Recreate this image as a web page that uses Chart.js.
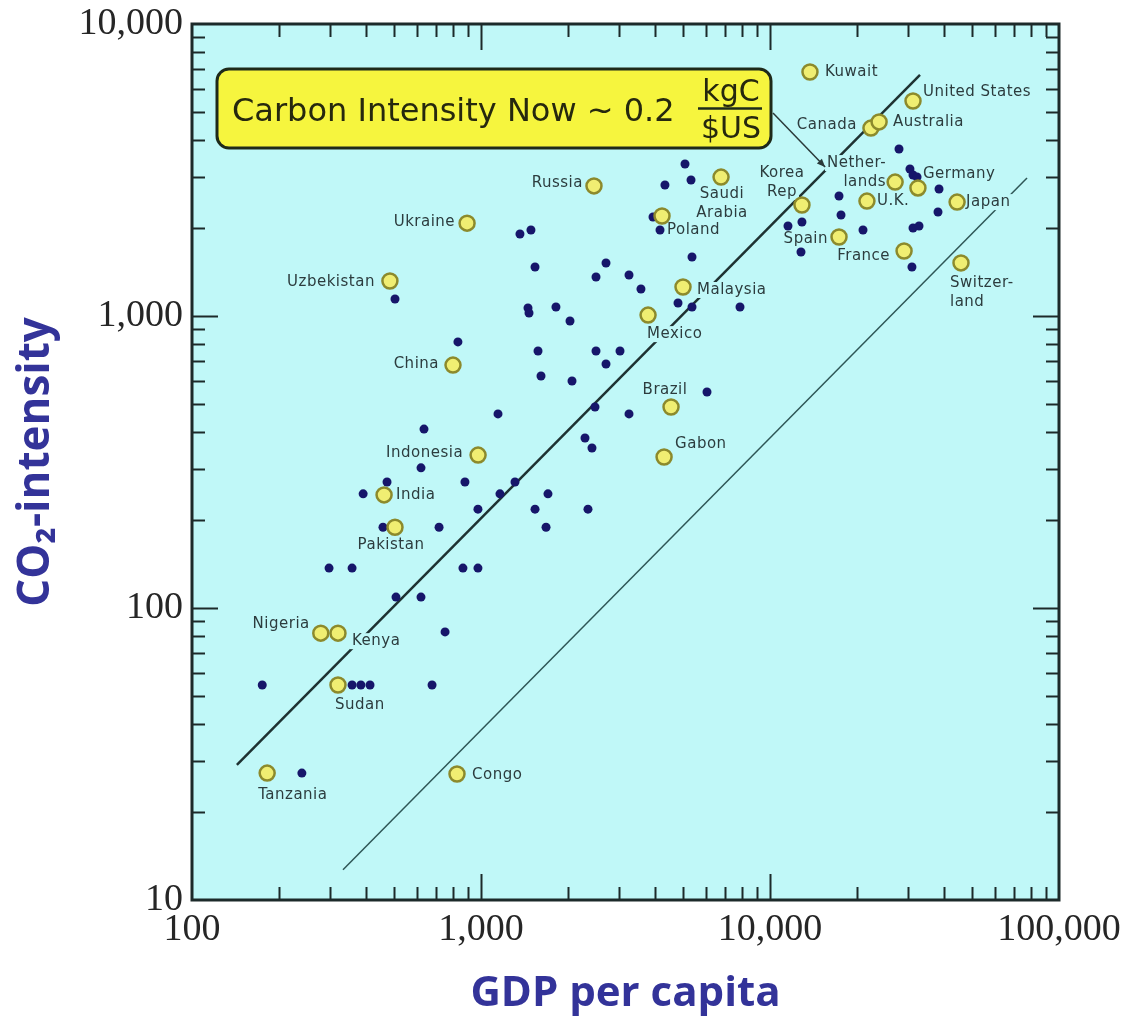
<!DOCTYPE html>
<html>
<head>
<meta charset="utf-8">
<script src="https://cdn.jsdelivr.net/npm/chart.js@4.4.0/dist/chart.umd.min.js"></script>
<style>
    html, body { margin: 0; padding: 0; background: #ffffff; }
    #wrap { width: 1128px; height: 1019px; }
</style>
</head>
<body>
<div id="wrap"><canvas id="myChart" width="1128" height="1019"></canvas></div>
<script>
// tick labels
const xTicks = [100, 1000, 10000, 100000];
const yTicks = [10, 100, 1000, 10000];
const minorSteps = [2, 3, 4, 5, 6, 7, 8, 9];

// unlabelled countries (GDP per capita, CO2 intensity)
const dotGdp = [504, 1364, 1489, 1538, 2707, 2500, 3252, 3577, 5080, 5330,
    4330, 3937, 4163, 5372, 4805, 5372, 7874, 1454, 1466, 1817,
    2032, 832, 27950, 30500, 31250, 32270, 38450, 17330, 17610, 11540,
    12900, 12800, 20980, 38130, 31250, 32780, 30990, 1575, 1613, 1145,
    635, 620, 473, 880, 1311, 391, 1163, 1705, 976, 1538,
    458, 716, 1679, 298, 358, 866, 976, 508, 620, 751,
    175, 358, 384, 413, 677, 240, 2500, 3027, 2707, 2065,
    6053, 2480, 3252, 2290, 2421, 2345];
const dotCo2 = [1143, 1909, 1970, 1472, 1519, 1360, 1382, 1237, 3315, 2923,
    2810, 2183, 1970, 1592, 1108, 1074, 1074, 1065, 1024, 1074,
    961, 815, 3731, 3187, 3040, 2992, 2722, 2576, 2218, 2033,
    2099, 1657, 1970, 2271, 2001, 2033, 1472, 759, 623, 462,
    410, 302, 270, 270, 270, 246, 246, 246, 218, 218,
    189, 189, 189, 137, 137, 137, 137, 109, 109, 82.8,
    54.5, 54.5, 54.5, 54.5, 54.5, 27.2, 759, 759, 685, 599,
    549, 488, 462, 382, 353, 218];

// labelled countries
const countryNames = ["Kuwait", "United States", "Canada", "Australia", "Nether-\nlands",
    "Germany", "U.K.", "Japan", "Korea\nRep", "Spain",
    "France", "Switzer-\nland", "Saudi\nArabia", "Poland", "Russia",
    "Ukraine", "Uzbekistan", "Malaysia", "Mexico", "China",
    "Brazil", "Indonesia", "Gabon", "India", "Pakistan",
    "Nigeria", "Kenya", "Sudan", "Tanzania", "Congo"];
const countryGdp = [13750, 31250, 22350, 23850, 27100,
    32500, 21650, 44400, 12900, 17330,
    29100, 45800, 6770, 4230, 2460,
    895, 484, 5000, 3785, 800,
    4545, 977, 4300, 462, 504,
    279, 320, 320, 182, 826];
const countryCo2 = [6850, 5450, 4400, 4620, 2875,
    2745, 2475, 2455, 2400, 1865,
    1670, 1520, 2990, 2200, 2790,
    2080, 1318, 1257, 1007, 679,
    488, 334, 329, 244, 189,
    82, 82, 54.5, 27.2, 27.0];

// the two reference lines (end points)
const fitGdp = [143, 33040];
const fitCo2 = [29, 6690];
const lowGdp = [333, 77500];
const lowCo2 = [12.7, 2970];

// label offsets from each yellow point: [dx, dy, align]
const labelPlace = [[15, 0, "left"], [10, -9, "left"], [-14, -3, "right"], [14, 0, "left"], [-9, -19, "right"],
    [5, -14, "left"], [10, 0, "left"], [9, 0, "left"], [-20, -32, "center"], [-11, 2, "right"],
    [-14, 5, "right"], [-11, 20, "left"], [1, 17, "center"], [5, 14, "left"], [-11, -3, "right"],
    [-12, -1, "right"], [-15, 1, "right"], [14, 3, "left"], [-1, 19, "left"], [-14, -1, "right"],
    [-6, -17, "center"], [-15, -2, "right"], [11, -13, "left"], [12, 0, "left"], [-4, 18, "center"],
    [-11, -9, "right"], [14, 8, "left"], [-3, 20, "left"], [-9, 22, "left"], [15, 1, "left"]];

const plotBg = "#c0f8f8";
const frameColor = "#1c2a2a";
const labelColor = "#2c3c3e";
const titleColor = "#333399";

function toPoints(xs, ys) {
    return xs.map((x, i) => ({ x: x, y: ys[i] }));
}

function drawLabels(chart) {
    const ctx = chart.ctx;
    const xs = chart.scales.x;
    const ys = chart.scales.y;
    ctx.save();
    ctx.font = "15px 'DejaVu Sans'";
    ctx.letterSpacing = "0.5px";
    ctx.textBaseline = "middle";
    ctx.textAlign = "left";
    countryNames.forEach((name, i) => {
        const p = labelPlace[i];
        const px = xs.getPixelForValue(countryGdp[i]) + p[0];
        const py = ys.getPixelForValue(countryCo2[i]) + p[1];
        name.split("\n").forEach((line, j) => {
            const w = ctx.measureText(line).width;
            const y = py + j * 19;
            let left = px;
            if (p[2] === "right") left = px - w;
            if (p[2] === "center") left = px - w / 2;
            ctx.fillStyle = plotBg;
            ctx.fillRect(left - 2, y - 8, w + 4, 16);
            ctx.fillStyle = labelColor;
            ctx.fillText(line, left, y);
        });
    });
    ctx.restore();
}

function drawFrame(chart) {
    const { ctx, chartArea: a } = chart;
    const xs = chart.scales.x;
    const ys = chart.scales.y;
    ctx.save();
    ctx.strokeStyle = frameColor;
    ctx.lineWidth = 2;
    ctx.beginPath();
    xTicks.slice(0, -1).forEach((d, k) => {
        const marks = k > 0 ? [[d, 26]] : [];
        minorSteps.forEach((m) => marks.push([d * m, 13]));
        marks.forEach(([v, len]) => {
            const x = Math.round(xs.getPixelForValue(v)) + 0.5;
            ctx.moveTo(x, a.bottom); ctx.lineTo(x, a.bottom - len);
            ctx.moveTo(x, a.top); ctx.lineTo(x, a.top + len);
        });
    });
    yTicks.slice(0, -1).forEach((d, k) => {
        const marks = k > 0 ? [[d, 26]] : [];
        minorSteps.forEach((m) => marks.push([d * m, 13]));
        marks.forEach(([v, len]) => {
            const y = Math.round(ys.getPixelForValue(v)) + 0.5;
            ctx.moveTo(a.left, y); ctx.lineTo(a.left + len, y);
            ctx.moveTo(a.right, y); ctx.lineTo(a.right - len, y);
        });
    });
    ctx.stroke();
    ctx.lineWidth = 3;
    ctx.strokeRect(a.left, a.top, a.right - a.left, a.bottom - a.top);
    ctx.restore();
}

function drawBox(chart) {
    const { ctx, chartArea: a } = chart;
    const bx = a.left + 25, by = a.top + 45, bw = 554, bh = 79;
    // pointer to the Netherlands
    const tx = chart.scales.x.getPixelForValue(countryGdp[4]) - 70;
    const ty = chart.scales.y.getPixelForValue(countryCo2[4]) - 15;
    const sx = bx + bw + 2, sy = by + 44;
    ctx.save();
    ctx.strokeStyle = "#2a3a3a";
    ctx.lineWidth = 1.5;
    ctx.beginPath();
    ctx.moveTo(sx, sy);
    ctx.lineTo(tx, ty);
    ctx.stroke();
    const ang = Math.atan2(ty - sy, tx - sx);
    ctx.fillStyle = "#2a3a3a";
    ctx.beginPath();
    ctx.moveTo(tx, ty);
    ctx.lineTo(tx - 9 * Math.cos(ang - 0.4), ty - 9 * Math.sin(ang - 0.4));
    ctx.lineTo(tx - 9 * Math.cos(ang + 0.4), ty - 9 * Math.sin(ang + 0.4));
    ctx.closePath();
    ctx.fill();

    ctx.beginPath();
    ctx.roundRect(bx, by, bw, bh, 12);
    ctx.fillStyle = "#f6f53e";
    ctx.fill();
    ctx.lineWidth = 3;
    ctx.strokeStyle = "#1e2a1a";
    ctx.stroke();

    ctx.fillStyle = "#26280e";
    ctx.textBaseline = "alphabetic";
    ctx.textAlign = "left";
    ctx.font = "32px 'DejaVu Sans'";
    ctx.fillText("Carbon Intensity Now ~ 0.2", bx + 15, by + 52, 453);
    ctx.textAlign = "center";
    ctx.font = "30px 'DejaVu Sans'";
    ctx.fillText("kgC", bx + 514, by + 32);
    ctx.fillText("$US", bx + 514, by + 69);
    ctx.lineWidth = 2.5;
    ctx.beginPath();
    ctx.moveTo(bx + 481, by + 39.5);
    ctx.lineTo(bx + 545, by + 39.5);
    ctx.stroke();
    ctx.restore();
}

const decor = {
    id: "decor",
    beforeDatasetsDraw(chart) {
        const { ctx, chartArea: a } = chart;
        ctx.save();
        ctx.fillStyle = plotBg;
        ctx.fillRect(a.left, a.top, a.right - a.left, a.bottom - a.top);
        ctx.restore();
    },
    afterDatasetDraw(chart, args) {
        // labels go above the lines but below the points
        if (args.index === 1) drawLabels(chart);
    },
    afterDraw(chart) {
        drawFrame(chart);
        drawBox(chart);
    },
};

const tickFont = { family: "'Liberation Serif', 'DejaVu Serif', serif", size: 38 };

var ctx = document.getElementById("myChart").getContext("2d");
var myChart = new Chart(ctx, {
    type: "scatter",
    data: {
        datasets: [
            {
                label: "0.2 kgC/$",
                data: toPoints(fitGdp, fitCo2),
                showLine: true,
                pointRadius: 0,
                borderColor: "#1e3232",
                borderWidth: 2.5,
                order: 4,
            },
            {
                label: "lower line",
                data: toPoints(lowGdp, lowCo2),
                showLine: true,
                pointRadius: 0,
                borderColor: "#2e5656",
                borderWidth: 1.5,
                order: 3,
            },
            {
                label: "countries",
                data: toPoints(dotGdp, dotCo2),
                pointRadius: 4.5,
                backgroundColor: "#16166a",
                borderWidth: 0,
                order: 2,
            },
            {
                label: "labelled countries",
                data: toPoints(countryGdp, countryCo2),
                pointRadius: 7.5,
                backgroundColor: "#f0ee72",
                borderColor: "#8c8a2c",
                borderWidth: 2.5,
                order: 1,
            },
        ],
    },
    options: {
        responsive: false,
        animation: false,
        events: [],
        layout: { padding: { left: 0, right: 69, top: 24, bottom: 0 } },
        plugins: {
            legend: { display: false },
            tooltip: { enabled: false },
        },
        scales: {
            x: {
                type: "logarithmic",
                min: 100,
                max: 100000,
                grid: { display: false, drawTicks: false },
                border: { display: false },
                afterBuildTicks: (s) => { s.ticks = xTicks.map((v) => ({ value: v })); },
                afterFit: (s) => {
                    s.height = 119;
                    s.paddingLeft = 0;
                    s.paddingRight = 0;
                },
                ticks: {
                    font: tickFont,
                    color: "#262626",
                    padding: 7,
                    autoSkip: false,
                    maxRotation: 0,
                    callback: (v) => Number(v).toLocaleString("en-US"),
                },
                title: {
                    display: true,
                    text: "GDP per capita",
                    color: titleColor,
                    font: { family: "'Open Sans', 'Noto Sans', sans-serif", size: 42, weight: "bold" },
                    padding: { top: 0, bottom: 0 },
                },
            },
            y: {
                type: "logarithmic",
                min: 10,
                max: 10000,
                grid: { display: false, drawTicks: false },
                border: { display: false },
                afterBuildTicks: (s) => { s.ticks = yTicks.map((v) => ({ value: v })); },
                afterFit: (s) => {
                    s.width = 192;
                    s.paddingTop = 0;
                    s.paddingBottom = 0;
                },
                ticks: {
                    font: tickFont,
                    color: "#262626",
                    padding: 9,
                    autoSkip: false,
                    callback: (v) => Number(v).toLocaleString("en-US"),
                },
                title: {
                    display: true,
                    text: "CO₂-intensity",
                    color: titleColor,
                    font: { family: "'Open Sans', 'Noto Sans', sans-serif", size: 44, weight: "bold" },
                    padding: { top: 10, bottom: 0 },
                },
            },
        },
    },
    plugins: [decor],
});
</script>
</body>
</html>
